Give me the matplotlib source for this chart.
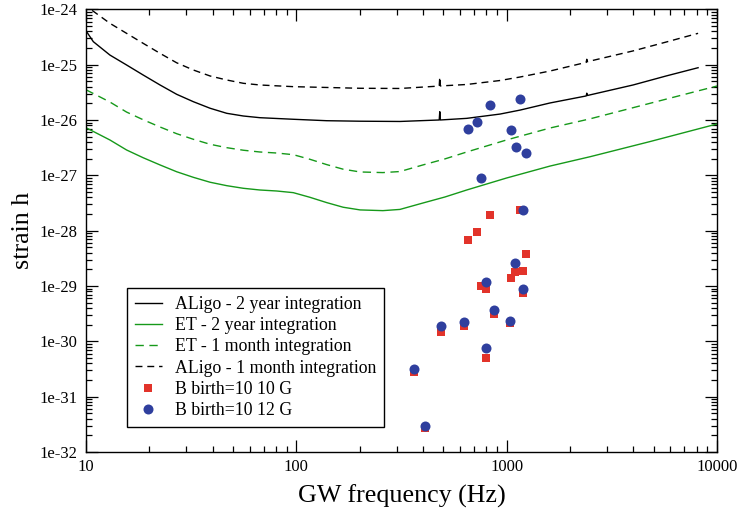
import matplotlib
matplotlib.use("Agg")
import matplotlib.pyplot as plt
from matplotlib.ticker import LogLocator, FixedLocator, FixedFormatter, NullFormatter

plt.rcParams['font.family'] = ['Liberation Serif', 'DejaVu Serif']

# Detector sensitivity curves (frequency in Hz, strain amplitude)
aligo_2yr_f = [10, 10.84, 13.0, 15.6, 18.7, 22.5, 27.0, 32.4, 38.9, 46.7, 56.0, 67.1, 96.8,
               139.6, 201, 311, 478, 481, 484, 646, 931, 1159, 1608, 2390, 2404, 2420,
               3990, 5730, 8130]
aligo_2yr_h = [4.10e-25, 2.60e-25, 1.49e-25, 9.86e-26, 6.50e-26, 4.29e-26, 2.91e-26, 2.14e-26,
               1.63e-26, 1.32e-26, 1.18e-26, 1.10e-26, 1.03e-26, 9.7e-27, 9.5e-27, 9.4e-27,
               1.0e-26, 1.41e-26, 1.0e-26, 1.07e-26, 1.28e-26, 1.51e-26, 2.03e-26, 2.72e-26,
               3.05e-26, 2.77e-26, 4.29e-26, 6.24e-26, 8.8e-26]

aligo_1mo_f = [10, 10.64, 13.0, 15.6, 18.7, 22.5, 27.0, 32.4, 38.9, 46.7, 56.0, 67.1, 96.8,
               201, 311, 478, 481, 484, 646, 931, 1159, 1608, 2390, 2404, 2420, 3990,
               5730, 8130]
aligo_1mo_h = [1.45e-24, 9.7e-25, 5.58e-25, 3.68e-25, 2.43e-25, 1.60e-25, 1.08e-25, 8.0e-26,
               6.24e-26, 5.28e-26, 4.60e-26, 4.29e-26, 4.0e-26, 3.74e-26, 3.71e-26, 4.1e-26,
               5.98e-26, 4.12e-26, 4.38e-26, 5.17e-26, 5.98e-26, 7.67e-26, 1.10e-25,
               1.25e-25, 1.13e-25, 1.77e-25, 2.56e-25, 3.68e-25]

et_2yr_f = [10, 13.0, 15.6, 18.7, 22.5, 27.0, 32.4, 38.9, 46.7, 56.0, 67.1, 80.6, 96.8, 116,
            139.6, 167, 201, 258, 311, 400, 509, 646, 1000, 1608, 2495, 4800, 10000]
et_2yr_h = [7.26e-27, 4.35e-27, 2.87e-27, 2.08e-27, 1.54e-27, 1.16e-27, 9.2e-28, 7.5e-28,
            6.5e-28, 5.83e-28, 5.43e-28, 5.21e-28, 4.86e-28, 4.01e-28, 3.21e-28, 2.65e-28,
            2.37e-28, 2.30e-28, 2.42e-28, 3.16e-28, 4.06e-28, 5.43e-28, 8.95e-28, 1.47e-27,
            2.17e-27, 4.07e-27, 8.47e-27]

et_1mo_f = [10, 13.0, 15.6, 18.7, 22.5, 27.0, 32.4, 38.9, 46.7, 56.0, 67.1, 80.6, 96.8, 116,
            139.6, 167, 201, 258, 311, 400, 509, 646, 1000, 1608, 2495, 4800, 10000]
et_1mo_h = [3.52e-26, 2.11e-26, 1.39e-26, 1.01e-26, 7.47e-27, 5.65e-27, 4.48e-27, 3.64e-27,
            3.16e-27, 2.84e-27, 2.64e-27, 2.53e-27, 2.36e-27, 1.95e-27, 1.56e-27, 1.29e-27,
            1.15e-27, 1.12e-27, 1.17e-27, 1.54e-27, 1.98e-27, 2.64e-27, 4.36e-27, 7.16e-27,
            1.05e-26, 2.0e-26, 4.11e-26]

# Magnetar signal estimates for two birth field strengths
b10_f = [830, 726, 658, 1158, 1237, 1200, 1100, 1049, 753, 800, 1200, 871, 1038, 629, 489,
         801, 363, 409]
b10_h = [1.9e-28, 9.3e-29, 6.9e-29, 2.4e-28, 3.8e-29, 1.86e-29, 1.78e-29, 1.41e-29, 1.02e-29,
         8.9e-30, 7.4e-30, 3.1e-30, 2.14e-30, 1.86e-30, 1.45e-30, 5.1e-31, 2.75e-31, 2.75e-32]

b12_f = [658, 726, 832, 1049, 1105, 1241, 1162, 756, 1200, 1100, 801, 1200, 871, 1038, 629,
         489, 801, 363, 409]
b12_h = [6.9e-27, 9.3e-27, 1.9e-26, 6.6e-27, 3.24e-27, 2.57e-27, 2.4e-26, 9.1e-28, 2.34e-28,
         2.63e-29, 1.17e-29, 8.9e-30, 3.7e-30, 2.34e-30, 2.19e-30, 1.86e-30, 7.6e-31, 3.1e-31,
         2.95e-32]

x_ticks = [10, 100, 1000, 10000]
x_tick_labels = ["10", "100", "1000", "10000"]
y_ticks = [1e-32, 1e-31, 1e-30, 1e-29, 1e-28, 1e-27, 1e-26, 1e-25, 1e-24]
y_tick_labels = ["1e-32", "1e-31", "1e-30", "1e-29", "1e-28", "1e-27", "1e-26", "1e-25", "1e-24"]

green = "#16991a"
red = "#e2332a"
blue = "#2f3f9e"

fig = plt.figure(figsize=(7.41, 5.14), dpi=100)
ax = fig.add_axes([0.116, 0.1206, 0.8516, 0.8613])

ax.plot(aligo_2yr_f, aligo_2yr_h, color="black", lw=1.0, label="ALigo - 2 year integration")
ax.plot(et_2yr_f, et_2yr_h, color=green, lw=1.0, label="ET - 2 year integration")
ax.plot(et_1mo_f, et_1mo_h, color=green, lw=1.0, dashes=(6, 4), label="ET - 1 month integration")
ax.plot(aligo_1mo_f, aligo_1mo_h, color="black", lw=1.0, dashes=(5, 3.5),
        label="ALigo - 1 month integration")
ax.plot(b10_f, b10_h, ls="none", marker="s", ms=6.3, color=red, mec=red, mew=0,
        label="B birth=10 10 G", zorder=3)
ax.plot(b12_f, b12_h, ls="none", marker="o", ms=7.2, color=blue, mec=blue, mew=0,
        label="B birth=10 12 G", zorder=4)

ax.set_xscale("log")
ax.set_yscale("log")
ax.set_xlim(10, 10000)
ax.set_ylim(1e-32, 1e-24)

ax.xaxis.set_major_locator(FixedLocator(x_ticks))
ax.xaxis.set_major_formatter(FixedFormatter(x_tick_labels))
ax.yaxis.set_major_locator(FixedLocator(y_ticks))
ax.yaxis.set_major_formatter(FixedFormatter(y_tick_labels))
ax.xaxis.set_minor_locator(LogLocator(base=10, subs=range(2, 10), numticks=20))
ax.yaxis.set_minor_locator(LogLocator(base=10, subs=range(2, 10), numticks=20))
ax.xaxis.set_minor_formatter(NullFormatter())
ax.yaxis.set_minor_formatter(NullFormatter())

ax.tick_params(which="both", direction="in", top=True, right=True, labelsize=12, width=0.9)
ax.tick_params(which="major", length=8.6)
ax.tick_params(which="minor", length=4)
ax.tick_params(axis="y", which="major", pad=6)
ax.tick_params(axis="x", which="major", pad=5)
for s in ax.spines.values():
    s.set_linewidth(1.0)

ax.set_xlabel("GW frequency (Hz)", fontsize=18.7, labelpad=7)
ax.set_ylabel("strain h", fontsize=18.7, labelpad=4)

leg = ax.legend(loc="lower left", bbox_to_anchor=(0.065, 0.056), fontsize=12.8, numpoints=1,
                handlelength=1.5, handletextpad=0.75, borderpad=0.45, labelspacing=0.24,
                fancybox=False, framealpha=1, edgecolor="black", borderaxespad=0)
leg.get_frame().set_linewidth(1.0)

fig.savefig("out.png", dpi=100)
